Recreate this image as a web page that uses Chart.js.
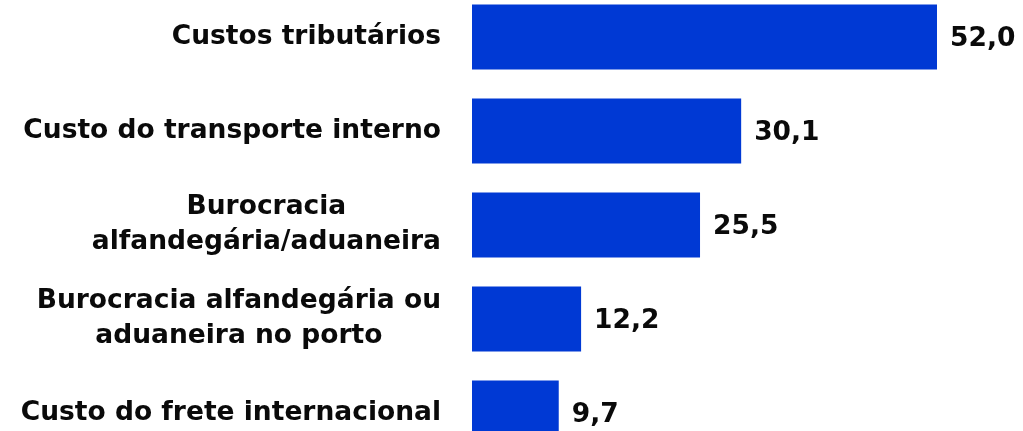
<!DOCTYPE html>
<html>
<head>
<meta charset="utf-8">
<script src="https://cdn.jsdelivr.net/npm/chart.js@4/dist/chart.umd.min.js"></script>
<style>
  html, body { margin: 0; padding: 0; background: #fff; overflow: hidden; }
  #wrap { position: absolute; left: 0; top: -10px; width: 1023px; height: 470px; }
</style>
</head>
<body>
<div id="wrap"><canvas id="chart"></canvas></div>
<script>
const categories = [
    ["Custos tributários"],
    ["Custo do transporte interno"],
    ["Burocracia", "alfandegária/aduaneira"],
    ["Burocracia alfandegária ou", "aduaneira no porto"],
    ["Custo do frete internacional"]
];
const values = [52.0, 30.1, 25.5, 12.2, 9.7];

const FONT = "bold 26.5px 'DejaVu Sans', sans-serif";
const LINE_H = 35;

// etiquetas das categorias e dos valores, desenhadas a partir das escalas
const labelsPlugin = {
    id: 'labels',
    afterDatasetsDraw(chart) {
        const ctx = chart.ctx;
        const yScale = chart.scales.y;
        const meta = chart.getDatasetMeta(0);
        ctx.save();
        ctx.font = FONT;
        ctx.fillStyle = '#0a0a0a';
        ctx.textBaseline = 'middle';
        categories.forEach((lines, i) => {
            const y = yScale.getPixelForValue(i);
            const widest = Math.max(...lines.map(l => ctx.measureText(l).width));
            const cx = chart.chartArea.left - 31 - widest / 2;
            ctx.textAlign = 'center';
            lines.forEach((l, j) => {
                const ly = y + (j - (lines.length - 1) / 2) * LINE_H;
                ctx.fillText(l, cx, ly);
            });
            const bar = meta.data[i];
            ctx.textAlign = 'left';
            ctx.fillText(values[i].toFixed(1).replace('.', ','), bar.x + 13, y + 2);
        });
        ctx.restore();
    }
};

new Chart(document.getElementById('chart'), {
    type: 'bar',
    data: {
        labels: categories,
        datasets: [{
            data: values,
            backgroundColor: '#0039D4',
            borderWidth: 0,
            barPercentage: 0.69,
            categoryPercentage: 1
        }]
    },
    options: {
        indexAxis: 'y',
        responsive: true,
        maintainAspectRatio: false,
        animation: false,
        layout: { padding: { left: 472, right: 86, top: 0, bottom: 0 } },
        scales: {
            x: { display: false, min: 0, max: 52 },
            y: { display: false }
        },
        plugins: {
            legend: { display: false },
            tooltip: { enabled: false }
        }
    },
    plugins: [labelsPlugin]
});
</script>
</body>
</html>
